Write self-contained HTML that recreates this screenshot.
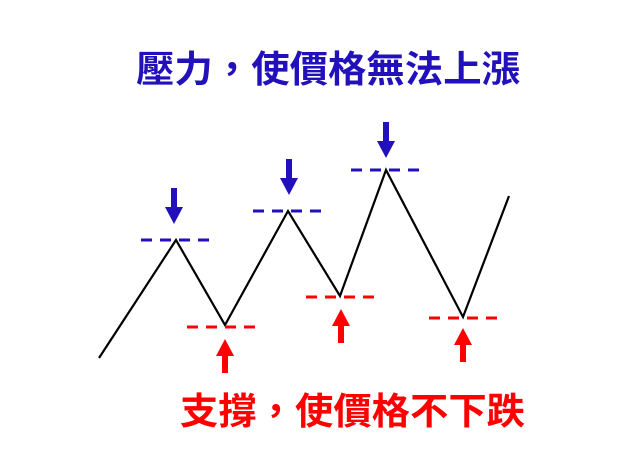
<!DOCTYPE html>
<html><head><meta charset="utf-8"><style>html,body{margin:0;padding:0;background:#fff}svg{display:block}</style></head>
<body>
<svg width="631" height="461" viewBox="0 0 631 461" xmlns="http://www.w3.org/2000/svg">
<text x="136" y="82" font-size="37" font-weight="bold" fill="#2211bb" font-family="Liberation Sans, Noto Sans CJK TC, sans-serif" textLength="384" lengthAdjust="spacingAndGlyphs">壓力，使價格無法上漲</text>
<text x="180" y="424" font-size="37" font-weight="bold" fill="#ff0000" font-family="Liberation Sans, Noto Sans CJK TC, sans-serif" textLength="345" lengthAdjust="spacingAndGlyphs">支撐，使價格不下跌</text>
<polyline points="99,358 176,240 225,325 288,211 340,296 386,170 463,317 509,196" fill="none" stroke="#000" stroke-width="2.2"/>
<g stroke="#2211bb" stroke-width="3" stroke-dasharray="11,8">
<line x1="141" y1="240" x2="210" y2="240"/>
<line x1="253" y1="211" x2="322" y2="211"/>
<line x1="351" y1="170" x2="420" y2="170"/>
</g>
<g stroke="#ff0000" stroke-width="3" stroke-dasharray="11,8">
<line x1="187" y1="327" x2="256" y2="327"/>
<line x1="306" y1="297" x2="375" y2="297"/>
<line x1="429" y1="318" x2="498" y2="318"/>
</g>
<g fill="#2211bb">
<rect x="171" y="188" width="6" height="20"/><polygon points="165,207 183,207 174,224"/>
<rect x="286" y="159" width="6" height="20"/><polygon points="280,178 298,178 289,195"/>
<rect x="383" y="122" width="6" height="20"/><polygon points="377,141 395,141 386,158"/>
</g>
<g fill="#ff0000">
<polygon points="225,339 234,356 216,356"/><rect x="222" y="355" width="6" height="18"/>
<polygon points="341,309 350,326 332,326"/><rect x="338" y="325" width="6" height="18"/>
<polygon points="463,328 472,345 454,345"/><rect x="460" y="344" width="6" height="18"/>
</g>
</svg>
</body></html>
